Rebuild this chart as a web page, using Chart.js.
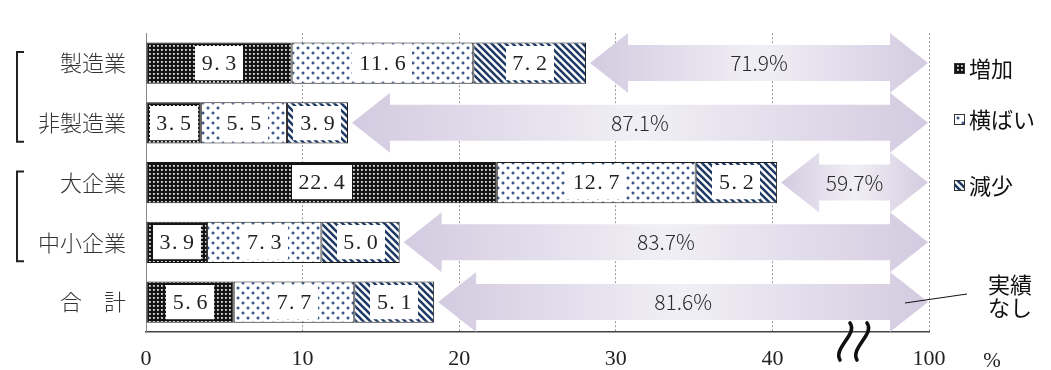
<!DOCTYPE html>
<html>
<head>
<meta charset="utf-8">
<script src="https://cdn.jsdelivr.net/npm/chart.js@4.4.1/dist/chart.umd.min.js"></script>
<style>
  html, body { margin: 0; padding: 0; background: #fff; }
  canvas { display: block; }
</style>
</head>
<body>
<canvas id="c" width="1051" height="370"></canvas>
<script>
// ---- data ----
const categories = ['製造業', '非製造業', '大企業', '中小企業', '合　計'];
const seriesNames = ['増加', '横ばい', '減少'];
const increase = [9.3, 3.5, 22.4, 3.9, 5.6];
const flat     = [11.6, 5.5, 12.7, 7.3, 7.7];
const decrease = [7.2, 3.9, 5.2, 5.0, 5.1];
const noResult = [71.9, 87.1, 59.7, 83.7, 81.6];   // 実績なし (%)
const xTickLabels = ['0', '10', '20', '30', '40', '100'];
const bracketGroups = [[0, 1], [2, 3]];
const noResultNote = ['実績', 'なし'];
const unitLabel = '%';

// ---- fill patterns ----
function tile(w, h, draw) {
  const c = document.createElement('canvas');
  c.width = w; c.height = h;
  const g = c.getContext('2d');
  draw(g, w, h);
  return g.createPattern(c, 'repeat');
}
const patIncrease = tile(4, 4, (g) => {
  g.fillStyle = '#141414'; g.fillRect(0, 0, 4, 4);
  g.fillStyle = '#a8a8a8'; g.fillRect(1, 1, 2, 2);
  g.fillStyle = '#ececec'; g.fillRect(1, 1, 1, 1);
});
const patFlat = tile(10, 10, (g) => {
  g.fillStyle = '#ffffff'; g.fillRect(0, 0, 10, 10);
  [[2, 2], [7, 7]].forEach(([x, y]) => {
    g.fillStyle = '#b4c0d4'; g.fillRect(x - 1, y, 4, 2); g.fillRect(x, y - 1, 2, 4);
    g.fillStyle = '#3d5888'; g.fillRect(x, y, 2, 2);
  });
});
const patDecrease = tile(7, 7, (g) => {
  g.fillStyle = '#ffffff'; g.fillRect(0, 0, 7, 7);
  g.strokeStyle = '#1f3a66'; g.lineWidth = 2.6;
  for (let k = -1; k <= 1; k++) {
    g.beginPath(); g.moveTo(k * 7 - 2, -2); g.lineTo(k * 7 + 9, 9); g.stroke();
  }
});
const patterns = [patIncrease, patFlat, patDecrease];

// ---- helpers ----
function drawSpacedNumber(ctx, text, cx, cy, cell) {
  // half-width cells, the decimal point sits close to the preceding digit
  const n = text.length;
  let x = cx - (n * cell) / 2;
  for (const ch of text) {
    if (ch === '.') {
      ctx.textAlign = 'left';
      ctx.fillText(ch, x + 1, cy);
    } else {
      ctx.textAlign = 'center';
      ctx.fillText(ch, x + cell / 2, cy);
    }
    x += cell;
  }
}

function doubleArrow(ctx, x0, x1, yc, bodyH, headH, headL) {
  ctx.beginPath();
  ctx.moveTo(x0, yc);
  ctx.lineTo(x0 + headL, yc - headH);
  ctx.lineTo(x0 + headL, yc - bodyH);
  ctx.lineTo(x1 - headL, yc - bodyH);
  ctx.lineTo(x1 - headL, yc - headH);
  ctx.lineTo(x1, yc);
  ctx.lineTo(x1 - headL, yc + headH);
  ctx.lineTo(x1 - headL, yc + bodyH);
  ctx.lineTo(x0 + headL, yc + bodyH);
  ctx.lineTo(x0 + headL, yc + headH);
  ctx.closePath();
}

// ---- decorations: value boxes, 実績なし arrows, legend, brackets, axis break ----
const decorPlugin = {
  id: 'decor',
  afterDatasetsDraw(chart) {
    const ctx = chart.ctx;
    const xs = chart.scales.x, ys = chart.scales.y;

    // value boxes inside each segment
    chart.data.datasets.forEach((ds, di) => {
      const meta = chart.getDatasetMeta(di);
      meta.data.forEach((bar, j) => {
        const p = bar.getProps(['x', 'base', 'y', 'height'], true);
        const txt = ds.data[j].toFixed(1);
        const cx = (p.x + p.base) / 2;
        const bw = txt.length * 12 + 12;
        const bh = p.height - 7;
        ctx.save();
        ctx.fillStyle = '#ffffff';
        ctx.fillRect(Math.round(cx - bw / 2), Math.round(p.y - bh / 2), bw, bh);
        ctx.fillStyle = '#222';
        ctx.font = '22px "Liberation Serif", "DejaVu Serif", serif';
        ctx.textBaseline = 'middle';
        drawSpacedNumber(ctx, txt, cx, p.y + 1, 11.8);
        ctx.restore();
      });
    });

    // 実績なし arrows from each bar end to the right end of the axis
    const xEnd = xs.getPixelForValue(xs.max) - 1;
    categories.forEach((c, i) => {
      const total = increase[i] + flat[i] + decrease[i];
      const x0 = xs.getPixelForValue(total) + 4;
      const yc = ys.getPixelForValue(i);
      const grad = ctx.createLinearGradient(x0, 0, xEnd, 0);
      grad.addColorStop(0, '#d3cbe0');
      grad.addColorStop(0.5, '#f1eff6');
      grad.addColorStop(1, '#d3cbe0');
      ctx.save();
      ctx.fillStyle = grad;
      doubleArrow(ctx, x0, xEnd, yc, 18, 30, 38);
      ctx.fill();
      ctx.fillStyle = '#2a2a2a';
      ctx.font = '300 21px "Noto Sans CJK JP", "Noto Sans", sans-serif';
      ctx.textAlign = 'center';
      ctx.textBaseline = 'middle';
      ctx.fillText(noResult[i].toFixed(1) + '%', (x0 + xEnd) / 2, yc);
      ctx.restore();
    });

    ctx.save();
    // legend
    const legendY = [68, 119, 185];
    seriesNames.forEach((name, k) => {
      const y = legendY[k];
      ctx.fillStyle = patterns[k];
      ctx.fillRect(954, y - 5, 11, 11);
      ctx.strokeStyle = '#333'; ctx.lineWidth = 1;
      ctx.strokeRect(954.5, y - 4.5, 10, 10);
      ctx.fillStyle = '#111';
      ctx.font = '22px "Noto Sans CJK JP", sans-serif';
      ctx.textAlign = 'left'; ctx.textBaseline = 'middle';
      ctx.fillText(name, 969, y + 1);
    });

    // group brackets
    ctx.strokeStyle = '#222'; ctx.lineWidth = 2;
    bracketGroups.forEach(([a, b]) => {
      const top = ys.getPixelForValue(a) - 11;
      const bot = ys.getPixelForValue(b) + 19;
      ctx.beginPath();
      ctx.moveTo(24, top); ctx.lineTo(17, top); ctx.lineTo(17, bot); ctx.lineTo(24, bot);
      ctx.stroke();
    });

    // axis break marks
    ctx.strokeStyle = '#111'; ctx.lineWidth = 3.6; ctx.lineCap = 'round';
    [[850, 840], [867, 857]].forEach(([xt, xb]) => {
      ctx.beginPath();
      ctx.moveTo(xt, 323);
      ctx.bezierCurveTo(xt + 8, 334, xb - 7, 348, xb, 360);
      ctx.stroke();
    });
    ctx.lineCap = 'butt';

    // note for the arrows
    ctx.fillStyle = '#111';
    ctx.font = '22px "Noto Sans CJK JP", sans-serif';
    ctx.textAlign = 'center'; ctx.textBaseline = 'middle';
    ctx.fillText(noResultNote[0], 1010, 285);
    ctx.fillText(noResultNote[1], 1010, 308);
    ctx.strokeStyle = '#111'; ctx.lineWidth = 1;
    ctx.beginPath(); ctx.moveTo(905, 303); ctx.lineTo(967, 294); ctx.stroke();

    // unit
    ctx.fillStyle = '#222';
    ctx.font = '21px "Liberation Serif", serif';
    ctx.fillText(unitLabel, 992, 361);
    ctx.restore();
  }
};

// ---- chart ----
new Chart(document.getElementById('c').getContext('2d'), {
  type: 'bar',
  data: {
    labels: categories,
    datasets: [
      { label: seriesNames[0], data: increase, backgroundColor: patIncrease },
      { label: seriesNames[1], data: flat, backgroundColor: patFlat },
      { label: seriesNames[2], data: decrease, backgroundColor: patDecrease }
    ]
  },
  options: {
    indexAxis: 'y',
    responsive: false,
    animation: false,
    devicePixelRatio: 1,
    layout: { padding: { left: 0, right: 122, top: 18, bottom: 0 } },
    datasets: {
      bar: {
        barPercentage: 0.69,
        categoryPercentage: 1,
        borderColor: '#1a1a1a',
        borderWidth: 1,
        borderSkipped: false
      }
    },
    plugins: { legend: { display: false }, tooltip: { enabled: false } },
    scales: {
      x: {
        stacked: true,
        min: 0, max: 50,
        afterFit: (s) => { s.height = 38; },
        ticks: {
          stepSize: 10,
          padding: 14,
          color: '#222',
          font: { family: '"Liberation Serif", serif', size: 22 },
          callback: (v, i) => xTickLabels[i]
        },
        grid: { color: '#9a9a9a', lineWidth: 1, drawTicks: false },
        border: { color: '#444', width: 1.5, dash: [2, 2] }
      },
      y: {
        stacked: true,
        afterFit: (s) => { s.width = 146; },
        ticks: {
          padding: 20,
          color: '#333',
          font: { family: '"Noto Sans CJK JP", sans-serif', size: 22, weight: '300' }
        },
        grid: { display: false, drawTicks: false },
        border: { color: '#8a8a8a', width: 1 }
      }
    }
  },
  plugins: [decorPlugin]
});
</script>
</body>
</html>
